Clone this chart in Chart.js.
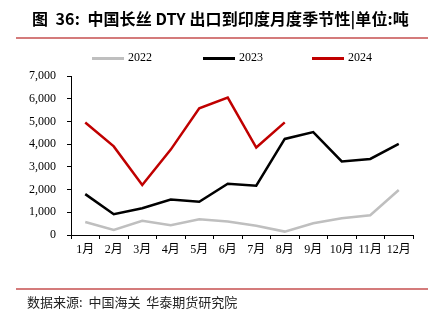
<!DOCTYPE html>
<html>
<head>
<meta charset="utf-8">
<script src="https://cdn.jsdelivr.net/npm/chart.js@4"></script>
<style>
    body { margin: 0; background: #fff; }
    #wrap { position: relative; width: 437px; height: 322px; overflow: hidden; }
    #title {
        position: absolute; left: 32px; top: 6px; letter-spacing: 0.1px;
        font: bold 16px "Noto Sans CJK SC", sans-serif; color: #000; white-space: pre;
    }
    .rule { position: absolute; left: 16px; width: 412px; height: 2px; background: #d47b7b; }
    #source {
        position: absolute; left: 27px; top: 292px;
        font: 13px "Noto Sans CJK SC", sans-serif; color: #222; white-space: pre;
    }
    .key {
        position: absolute; top: 50px; height: 16px; line-height: 16px;
        font: 12px "Liberation Serif", serif; color: #000; white-space: nowrap;
    }
    .key i { display: inline-block; width: 32px; height: 3px; vertical-align: middle; margin-right: 4px; }
    canvas { position: absolute; left: 0; top: 0; }
</style>
</head>
<body>
<div id="wrap">
    <canvas id="chart" width="437" height="322"></canvas>
    <div id="title">图  36:  中国长丝 DTY 出口到印度月度季节性|单位:吨</div>
    <div class="rule" style="top:37px"></div>
    <div id="legend"></div>
    <div class="rule" style="top:288px"></div>
    <div id="source">数据来源:  中国海关  华泰期货研究院</div>
</div>
<script>
    const months = ['1月', '2月', '3月', '4月', '5月', '6月', '7月', '8月', '9月', '10月', '11月', '12月'];
    const data2022 = [575, 220, 630, 430, 690, 590, 410, 150, 520, 740, 870, 1980];
    const data2023 = [1800, 915, 1180, 1560, 1460, 2260, 2170, 4230, 4530, 3240, 3350, 4010];
    const data2024 = [4950, 3900, 2200, 3760, 5580, 6050, 3850, 4960];

    const font = { family: '"Liberation Serif", "Noto Sans CJK SC", serif', size: 12 };

    function series(label, values, color) {
        return {
            label: label,
            data: values,
            borderColor: color,
            backgroundColor: color,
            borderWidth: 2.5,
            pointRadius: 0,
            tension: 0,
            fill: false
        };
    }

    const chart = new Chart(document.getElementById('chart'), {
        type: 'line',
        data: {
            labels: months,
            datasets: [
                series('2022', data2022, '#bfbfbf'),
                series('2023', data2023, '#000000'),
                series('2024', data2024, '#c00000')
            ]
        },
        options: {
            responsive: false,
            animation: false,
            layout: { padding: { left: 0, right: 24, top: 76, bottom: 57 } },
            plugins: {
                legend: { display: false },
                tooltip: { enabled: false }
            },
            scales: {
                x: {
                    offset: true,
                    afterFit: scale => { scale.height = 30; },
                    grid: { drawOnChartArea: false, tickLength: 4, color: '#000', offset: true },
                    border: { color: '#000', width: 1 },
                    ticks: { color: '#000', font: font, padding: 4, maxRotation: 0, autoSkip: false }
                },
                y: {
                    min: 0,
                    max: 7000,
                    afterFit: scale => { scale.width = 71; },
                    grid: { drawOnChartArea: false, tickLength: 4, color: '#000' },
                    border: { color: '#000', width: 1 },
                    ticks: {
                        stepSize: 1000,
                        autoSkip: false,
                        color: '#000',
                        font: font,
                        padding: 11,
                        callback: v => v.toLocaleString('en-US')
                    }
                }
            }
        }
    });

    // legend keys placed like the original, taken from the datasets
    const keyLeft = [92, 203, 312];
    chart.data.datasets.forEach((ds, i) => {
        const key = document.createElement('div');
        key.className = 'key';
        key.style.left = keyLeft[i] + 'px';
        key.innerHTML = `<i style="background:${ds.borderColor}"></i>${ds.label}`;
        document.getElementById('legend').appendChild(key);
    });
</script>
</body>
</html>
